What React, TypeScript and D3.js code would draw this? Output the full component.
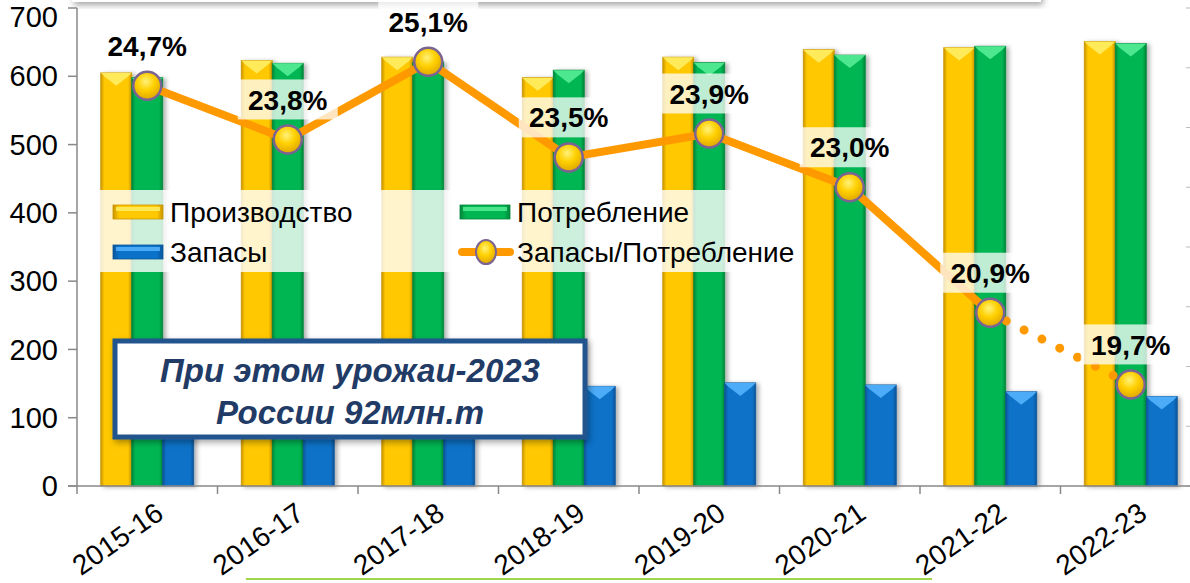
import React from "react";
import { scaleBand, scaleLinear, line } from "d3";

const categories = ["2015-16", "2016-17", "2017-18", "2018-19", "2019-20", "2020-21", "2021-22", "2022-23"];
const production = [605, 623, 628, 598, 628, 639, 642, 651];
const consumption = [598, 619, 621, 609, 620, 631, 644, 648];
const stocks = [148, 147, 156, 146, 151, 148, 138, 131];
const ratio = [24.7, 23.8, 25.1, 23.5, 23.9, 23.0, 20.9, 19.7];
const yTicks = [0, 100, 200, 300, 400, 500, 600, 700];
const y2Ticks = [18, 19, 20, 21, 22, 23, 24, 25, 26];

const seriesNames = ["Производство", "Потребление", "Запасы"];
const ratioName = "Запасы/Потребление";
const noteLines = ["При этом урожаи-2023", "России 92млн.т"];

const W = 1190;
const H = 583;
const margin = { left: 77, top: 8, bottom: 486 };
const font = "'Liberation Sans', Arial, sans-serif";

// colours for each bar series: [edge, main, top highlight]
const palette = [
  { dark: "#c99500", main: "#ffc800", light: "#fff06a" },
  { dark: "#00863a", main: "#00b652", light: "#5cf09a" },
  { dark: "#0a559a", main: "#0a72c8", light: "#5ab6ff" },
];

const App = () => {
  const x = scaleBand<string>().domain(categories).range([margin.left, margin.left + 8 * 140.5]);
  const sub = scaleBand<number>().domain([0, 1, 2]).range([0, x.bandwidth()]).paddingOuter(0.766);
  const y = scaleLinear().domain([0, 700]).range([margin.bottom, margin.top]);
  const y2 = scaleLinear().domain([18, 26]).range([margin.bottom, margin.top]);
  const cx = (c: string) => (x(c) as number) + x.bandwidth() / 2;

  const pts: [number, number][] = categories.map((c, i) => [cx(c), y2(ratio[i])]);
  const lineGen = line<[number, number]>();
  const solid = lineGen(pts.slice(0, 7)) as string;
  const dotted = lineGen(pts.slice(6)) as string;

  const values = [production, consumption, stocks];
  const bw = sub.bandwidth();

  const bar = (xx: number, top: number, w: number, h: number, k: number, key: string) => (
    <g key={key} filter="url(#shadow)">
      <rect x={xx} y={top} width={w} height={h} fill={`url(#grad${k})`} stroke={palette[k].dark} strokeWidth={0.8} />
      <polygon
        points={`${xx},${top} ${xx + w},${top} ${xx + w - 4},${top + 4} ${xx + w / 2},${top + 13} ${xx + 4},${top + 4}`}
        fill={palette[k].light}
        opacity={0.85}
      />
    </g>
  );

  return (
    <svg width={W} height={H} style={{ position: "absolute", left: 0, top: 0, background: "#fff" }} fontFamily={font}>
      <defs>
        {palette.map((p, k) => (
          <linearGradient key={k} id={`grad${k}`} x1="0" x2="1" y1="0" y2="0">
            <stop offset="0%" stopColor={p.dark} />
            <stop offset="12%" stopColor={p.main} />
            <stop offset="88%" stopColor={p.main} />
            <stop offset="100%" stopColor={p.dark} />
          </linearGradient>
        ))}
        <radialGradient id="marker" cx="0.45" cy="0.35" r="0.7">
          <stop offset="0%" stopColor="#fff27a" />
          <stop offset="45%" stopColor="#ffd000" />
          <stop offset="100%" stopColor="#d9a000" />
        </radialGradient>
        <filter id="shadow" x="-20%" y="-5%" width="150%" height="110%">
          <feDropShadow dx="3" dy="1" stdDeviation="2" floodColor="#000" floodOpacity="0.3" />
        </filter>
        <filter id="boxShadow" x="-10%" y="-10%" width="120%" height="130%">
          <feDropShadow dx="2" dy="3" stdDeviation="3" floodColor="#000" floodOpacity="0.35" />
        </filter>
      </defs>

      {/* edge of the panel above and the frame below */}
      <rect x={72} y={-30} width={969} height={32} fill="#fff" filter="url(#boxShadow)" />
      <line x1={246} x2={932} y1={579} y2={579} stroke="#9fd64a" strokeWidth={2} />

      {/* right axis ticks, almost cut off */}
      {y2Ticks.map((t) => (
        <line key={t} x1={1186} x2={1190} y1={y2(t)} y2={y2(t)} stroke="#bbb" strokeWidth={1} />
      ))}

      {/* bars */}
      {categories.map((c, i) =>
        values.map((v, k) =>
          bar((x(c) as number) + (sub(k) as number), y(v[i]), bw, margin.bottom - y(v[i]), k, `${c}-${k}`)
        )
      )}

      {/* axes */}
      <line x1={margin.left} x2={margin.left} y1={margin.top} y2={margin.bottom} stroke="#888" strokeWidth={1.5} />
      <line x1={68} x2={W} y1={margin.bottom} y2={margin.bottom} stroke="#888" strokeWidth={1.5} />
      {yTicks.map((t) => (
        <g key={t}>
          <line x1={68} x2={margin.left} y1={y(t)} y2={y(t)} stroke="#888" strokeWidth={1.5} />
          <text x={58} y={Math.max(y(t), 17)} dy="0.35em" textAnchor="end" fontSize={29} fill="#000">
            {t}
          </text>
        </g>
      ))}
      {categories.map((c) => (
        <g key={c}>
          <line x1={x(c)} x2={x(c)} y1={margin.bottom} y2={margin.bottom + 8} stroke="#888" strokeWidth={1.5} />
          <text
            transform={`translate(${cx(c) + 6},${margin.bottom + 14}) rotate(-35)`}
            textAnchor="end"
            dy="0.75em"
            fontSize={28}
            fill="#000"
          >
            {c}
          </text>
        </g>
      ))}

      {/* legend */}
      <rect x={100} y={190} width={700} height={82} fill="#fff" opacity={0.8} />
      {[0, 1, 2].map((k) => {
        const lx = k === 1 ? 460 : 113;
        const ly = k === 2 ? 252 : 212;
        return (
          <g key={k}>
            <rect x={lx} y={ly - 7} width={50} height={14} fill={`url(#grad${k})`} stroke={palette[k].dark} strokeWidth={0.8} />
            <rect x={lx + 3} y={ly - 5} width={44} height={4} fill={palette[k].light} opacity={0.8} />
            <text x={lx + 57} y={ly} dy="0.36em" fontSize={28} fill="#000">
              {seriesNames[k]}
            </text>
          </g>
        );
      })}
      <line x1={462} x2={510} y1={252} y2={252} stroke="#ff9900" strokeWidth={8} strokeLinecap="round" />
      <ellipse cx={486} cy={252} rx={10} ry={12} fill="url(#marker)" stroke="#7b6394" strokeWidth={2} />
      <text x={517} y={252} dy="0.36em" fontSize={28} fill="#000">
        {ratioName}
      </text>

      {/* note box */}
      <g filter="url(#boxShadow)">
        <rect x={115} y={341} width={470} height={96} fill="#fff" stroke="#24558d" strokeWidth={5} />
      </g>
      {noteLines.map((t, i) => (
        <text
          key={t}
          x={350}
          y={370 + i * 42}
          dy="0.35em"
          textAnchor="middle"
          fontSize={33}
          fontWeight="bold"
          fontStyle="italic"
          fill="#1f3b66"
        >
          {t}
        </text>
      ))}

      {/* ratio line */}
      <path d={solid} fill="none" stroke="#ff9900" strokeWidth={8} strokeLinejoin="round" />
      <path d={dotted} fill="none" stroke="#ff9900" strokeWidth={9} strokeLinecap="round" strokeDasharray="0 20" strokeDashoffset={-18} />
      {pts.map(([px, py], i) => (
        <circle key={i} cx={px} cy={py} r={14} fill="url(#marker)" stroke="#7b6394" strokeWidth={2.5} />
      ))}

      {/* data labels */}
      {pts.map(([px, py], i) => (
        <g key={i}>
          <rect x={px - 50} y={py - 60} width={100} height={40} fill="#fff" opacity={0.75} />
          <text x={px} y={py - 40} dy="0.36em" textAnchor="middle" fontSize={28} fontWeight="bold" fill="#000">
            {ratio[i].toFixed(1).replace(".", ",") + "%"}
          </text>
        </g>
      ))}
    </svg>
  );
};

export default App;
